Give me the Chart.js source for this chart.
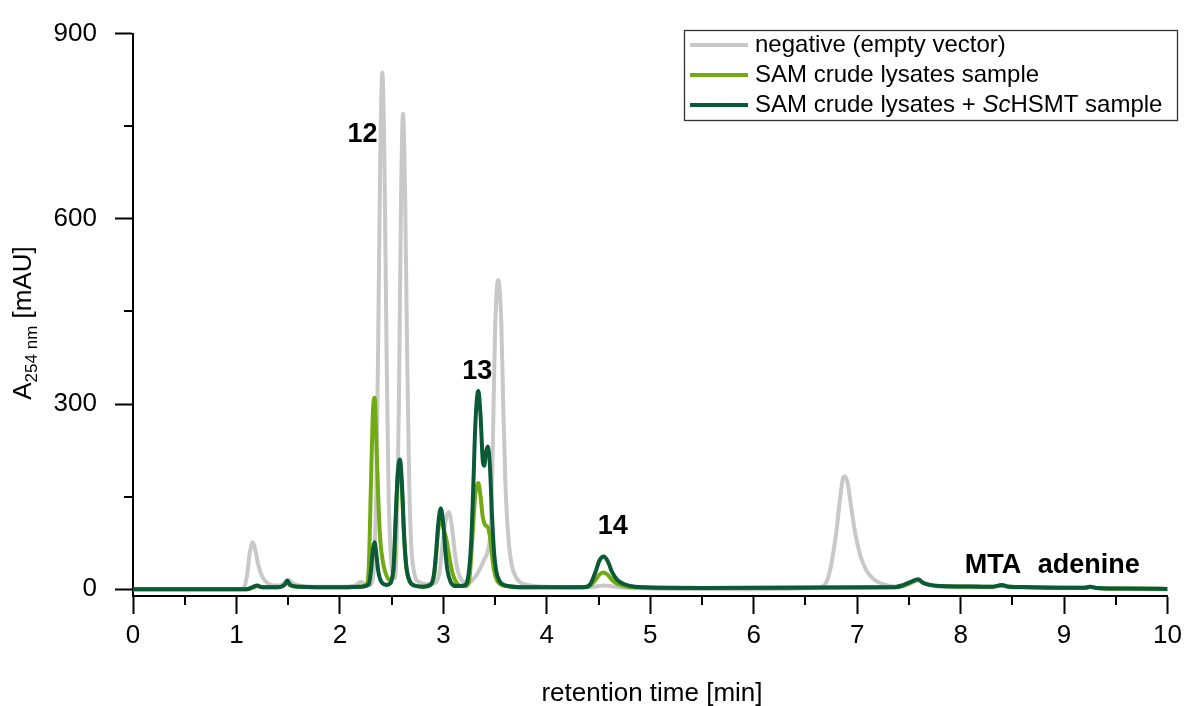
<!DOCTYPE html>
<html>
<head>
<meta charset="utf-8">
<script src="https://cdn.jsdelivr.net/npm/chart.js"></script>
<style>
  html, body { margin: 0; padding: 0; background: #fff; }
  canvas { display: block; }
</style>
</head>
<body>
<canvas id="hplc" width="1188" height="706"></canvas>
<script>
// retention time [min] / absorbance [mAU]
const negT = [0, 1.0, 1.07, 1.10, 1.13, 1.157, 1.18, 1.21, 1.25, 1.30, 1.36, 1.42, 1.47, 1.50, 1.54, 1.6, 1.8, 2.0, 2.15, 2.2, 2.24, 2.28,
  2.31, 2.33, 2.35, 2.37, 2.39, 2.41, 2.43, 2.45, 2.47, 2.49, 2.51, 2.53,
  2.55, 2.57, 2.59, 2.61, 2.63, 2.65, 2.67, 2.69, 2.72, 2.76, 2.84,
  2.92, 2.96, 2.99, 3.02, 3.05, 3.08, 3.11, 3.14, 3.18, 3.24, 3.30, 3.36, 3.40, 3.43,
  3.46, 3.48, 3.50, 3.53, 3.56, 3.58, 3.60, 3.63, 3.66, 3.70, 3.78, 4.0, 4.4, 4.55, 4.7, 5.0, 6.0,
  6.6, 6.68, 6.73, 6.77, 6.80, 6.83, 6.86, 6.88, 6.91, 6.94, 6.98, 7.03, 7.09, 7.17, 7.27, 7.4,
  7.5, 7.59, 7.66, 7.8, 8.3, 8.4, 8.5, 9.2, 9.25, 9.35, 10];
const negY = [0, 0, 2, 20, 60, 76, 65, 40, 20, 10, 6, 6, 12, 15, 10, 6, 4, 4, 6, 12, 8, 6,
  10, 40, 150, 400, 700, 837, 700, 400, 160, 60, 25, 18,
  80, 300, 620, 770, 640, 380, 170, 70, 25, 12, 8,
  10, 25, 70, 110, 125, 105, 60, 30, 14, 10, 18, 35, 50, 62,
  110, 250, 420, 501, 430, 290, 170, 80, 40, 20, 8, 4, 3, 6, 3, 1, 0,
  2, 6, 25, 60, 95, 140, 178, 183, 170, 135, 92, 55, 30, 15, 7, 4,
  8, 14, 9, 4, 3, 6, 3, 2, 3, 1, 0];

const samT = [0, 1.1, 1.15, 1.2, 1.25, 1.4, 1.47, 1.49, 1.52, 1.6, 2.0, 2.2, 2.26, 2.28, 2.30, 2.32, 2.335, 2.35, 2.37, 2.39, 2.42, 2.45, 2.48,
  2.52, 2.54, 2.56, 2.58, 2.60, 2.62, 2.64, 2.67, 2.72, 2.80,
  2.88, 2.91, 2.93, 2.95, 2.975, 3.0, 3.03, 3.06, 3.09, 3.13, 3.18,
  3.22, 3.25, 3.27, 3.29, 3.31, 3.337, 3.36, 3.38, 3.40, 3.43, 3.45, 3.47, 3.49, 3.52, 3.58, 3.8,
  4.35, 4.42, 4.47, 4.51, 4.55, 4.59, 4.63, 4.68, 4.75, 4.85, 5.5, 7.35, 7.45, 7.52, 7.59, 7.64, 7.7, 7.8, 8.0,
  8.3, 8.4, 8.45, 8.6, 9.0, 9.2, 9.25, 9.32, 9.6, 10];
const samY = [0, 0, 2, 5, 3, 3, 8, 12, 6, 4, 3, 4, 8, 40, 170, 290, 310, 250, 150, 80, 40, 22, 15,
  30, 110, 185, 200, 160, 85, 38, 14, 6, 4,
  7, 22, 55, 95, 118, 100, 80, 50, 25, 10, 5,
  5, 15, 55, 110, 155, 172, 150, 118, 105, 100, 85, 55, 30, 14, 6, 3,
  3, 6, 15, 24, 27, 23, 15, 9, 5, 3, 2, 3, 6, 11, 15, 10, 7, 5, 4.5,
  4, 6, 4.5, 3.5, 2.5, 2.5, 4, 2, 1, 0.5];

const hsmtT = [0, 1.1, 1.15, 1.2, 1.25, 1.4, 1.47, 1.49, 1.52, 1.6, 2.0, 2.2, 2.28, 2.30, 2.32, 2.335, 2.35, 2.37, 2.40, 2.45,
  2.49, 2.52, 2.54, 2.56, 2.58, 2.60, 2.62, 2.64, 2.67, 2.72, 2.80,
  2.88, 2.91, 2.93, 2.95, 2.975, 3.0, 3.02, 3.04, 3.07, 3.12,
  3.20, 3.24, 3.27, 3.29, 3.31, 3.337, 3.36, 3.38, 3.395, 3.41, 3.43, 3.45, 3.47, 3.49, 3.51, 3.54, 3.60, 3.8,
  4.35, 4.42, 4.47, 4.51, 4.55, 4.59, 4.63, 4.68, 4.75, 4.85, 4.95, 5.5, 7.35, 7.45, 7.52, 7.59, 7.64, 7.7, 7.8, 8.0,
  8.3, 8.4, 8.45, 8.6, 9.0, 9.2, 9.25, 9.32, 9.6, 10];
const hsmtY = [0, 0, 3, 6, 3, 3, 8, 14, 7, 4, 3, 4, 8, 30, 65, 76, 60, 30, 12, 7,
  10, 40, 120, 190, 210, 170, 90, 40, 15, 6, 4,
  8, 25, 60, 105, 131, 105, 60, 30, 12, 5,
  6, 20, 80, 170, 270, 321, 280, 210, 200, 220, 231, 200, 120, 60, 30, 14, 6, 3,
  3, 8, 28, 47, 53, 45, 28, 15, 8, 4, 3, 2, 3, 7, 12, 16, 10, 7, 5, 4.5,
  4, 7, 4.5, 3.5, 2.5, 2.5, 4, 2, 1, 0.5];

const seriesLabels = ["negative (empty vector)", "SAM crude lysates sample", "SAM crude lysates + ScHSMT sample"];
const seriesColors = ["#c8c8c8", "#72aa14", "#0a5a37"];

const xTicks = [0, 1, 2, 3, 4, 5, 6, 7, 8, 9, 10];
const xMinor = [0.5, 1.5, 2.5, 3.5, 4.5, 5.5, 6.5, 7.5, 8.5, 9.5];
const yTicks = [0, 300, 600, 900];
const yMinor = [150, 450, 750];

// peak labels: [text, x (min), y (mAU) of baseline]
const peakNames = [["12", 2.218, 725, "center"], ["13", 3.327, 340, "center"], ["14", 4.638, 90, "center"],
  ["MTA", 8.04, 26, "left"], ["adenine", 8.746, 26, "left"]];

const pts = (t, y) => t.map((v, i) => ({ x: v, y: y[i] }));
const FONT = "'Liberation Sans', Arial, sans-serif";

const extras = {
  id: "extras",
  afterDraw(chart) {
    const ctx = chart.ctx;
    const xs = chart.scales.x, ys = chart.scales.y;
    const area = chart.chartArea;
    ctx.save();
    // minor ticks
    ctx.strokeStyle = "#000";
    ctx.lineWidth = 2;
    ctx.beginPath();
    xMinor.forEach(v => {
      const px = Math.round(xs.getPixelForValue(v));
      ctx.moveTo(px, area.bottom);
      ctx.lineTo(px, area.bottom + 9);
    });
    yMinor.forEach(v => {
      const py = Math.round(ys.getPixelForValue(v));
      ctx.moveTo(area.left, py);
      ctx.lineTo(area.left - 9, py);
    });
    ctx.stroke();

    // peak labels
    ctx.fillStyle = "#000";
    ctx.font = "bold 27px " + FONT;
    ctx.textBaseline = "alphabetic";
    peakNames.forEach(([txt, x, y, al]) => {
      ctx.textAlign = al;
      ctx.fillText(txt, xs.getPixelForValue(x), ys.getPixelForValue(y));
    });

    // x title
    ctx.font = "26px " + FONT;
    ctx.textAlign = "center";
    ctx.fillText("retention time [min]", 652, 701);

    // y title with subscript
    ctx.save();
    ctx.translate(31, 323);
    ctx.rotate(-Math.PI / 2);
    const big = "26px " + FONT, small = "17px " + FONT;
    ctx.font = big; const wA = ctx.measureText("A").width;
    ctx.font = small; const wS = ctx.measureText("254 nm").width;
    ctx.font = big; const wU = ctx.measureText(" [mAU]").width;
    let x0 = -(wA + wS + wU) / 2;
    ctx.textAlign = "left";
    ctx.font = big; ctx.fillText("A", x0, 0); x0 += wA;
    ctx.font = small; ctx.fillText("254 nm", x0, 6); x0 += wS;
    ctx.font = big; ctx.fillText(" [mAU]", x0, 0);
    ctx.restore();

    // legend
    ctx.fillStyle = "#fff";
    ctx.fillRect(684, 30, 493, 90);
    ctx.strokeStyle = "#333";
    ctx.lineWidth = 1.3;
    ctx.strokeRect(684.5, 30.5, 493, 90);
    ctx.font = "24px " + FONT;
    ctx.textBaseline = "middle";
    ctx.textAlign = "left";
    seriesLabels.forEach((lab, i) => {
      const y = 45 + i * 30;
      ctx.strokeStyle = seriesColors[i];
      ctx.lineWidth = 4;
      ctx.beginPath();
      ctx.moveTo(690, y);
      ctx.lineTo(748, y);
      ctx.stroke();
      ctx.fillStyle = "#000";
      let x = 755;
      lab.split(/(Sc)/).forEach(part => {
        if (!part) return;
        ctx.font = (part === "Sc" ? "italic " : "") + "24px " + FONT;
        ctx.fillText(part, x, y);
        x += ctx.measureText(part).width;
      });
    });
    ctx.restore();
  }
};

new Chart(document.getElementById("hplc"), {
  type: "line",
  data: {
    datasets: [
      { label: seriesLabels[0], data: pts(negT, negY), borderColor: seriesColors[0], order: 3 },
      { label: seriesLabels[1], data: pts(samT, samY), borderColor: seriesColors[1], order: 2 },
      { label: seriesLabels[2], data: pts(hsmtT, hsmtY), borderColor: seriesColors[2], order: 1 },
    ],
  },
  options: {
    responsive: false,
    animation: false,
    layout: { padding: { left: 0, right: 19, top: 28, bottom: 0 } },
    elements: {
      line: { borderWidth: 4, cubicInterpolationMode: "monotone", fill: false },
      point: { radius: 0 },
    },
    plugins: { legend: { display: false }, tooltip: { enabled: false } },
    scales: {
      x: {
        type: "linear",
        min: 0,
        max: 10,
        afterBuildTicks: s => { s.ticks = xTicks.map(v => ({ value: v })); },
        afterFit: s => { s.height = 110; },
        border: { display: true, color: "#000", width: 2 },
        grid: { drawOnChartArea: false, drawTicks: true, tickLength: 18, tickColor: "#000", tickWidth: 2 },
        ticks: { color: "#000", font: { family: FONT, size: 26 }, padding: 6, maxRotation: 0 },
      },
      y: {
        min: -11,
        max: 900,
        afterBuildTicks: s => { s.ticks = yTicks.map(v => ({ value: v })); },
        afterFit: s => { s.width = 133; },
        border: { display: true, color: "#000", width: 2 },
        grid: { drawOnChartArea: false, drawTicks: true, tickLength: 18, tickColor: "#000", tickWidth: 2 },
        ticks: { color: "#000", font: { family: FONT, size: 26 }, padding: 18 },
      },
    },
  },
  plugins: [extras],
});
</script>
</body>
</html>
